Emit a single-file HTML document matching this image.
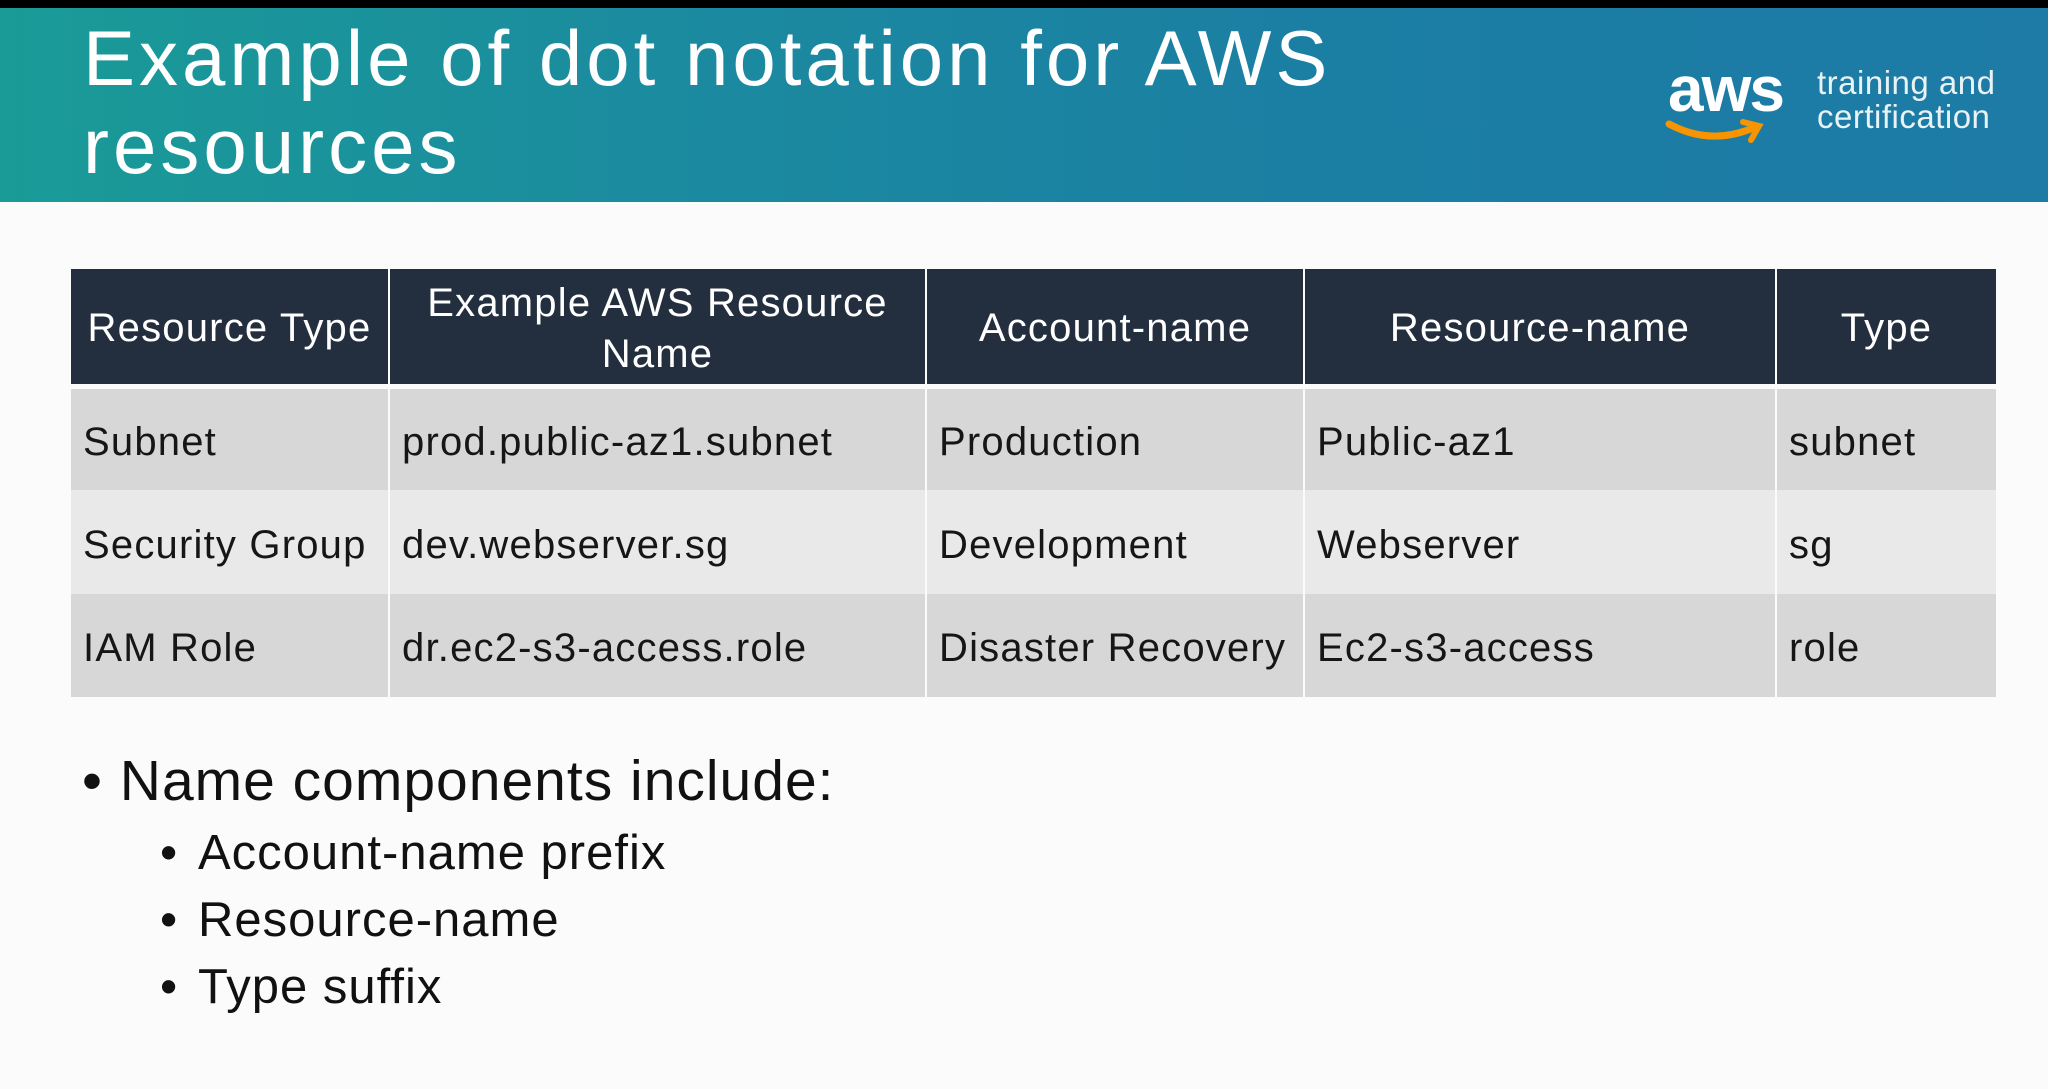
<!DOCTYPE html>
<html><head><meta charset="utf-8"><style>
*{margin:0;padding:0;box-sizing:border-box}
body{width:2048px;height:1089px;background:#fbfbfb;font-family:"Liberation Sans","DejaVu Sans",sans-serif;position:relative;overflow:hidden}
.top{position:absolute;left:0;top:0;width:2048px;height:8px;background:#000}
.hdr{position:absolute;left:0;top:8px;width:2048px;height:194px;background:linear-gradient(90deg,#1a9b97 0%,#1b8aa0 35%,#1b7ea3 65%,#1d7ba6 100%)}
.title{position:absolute;left:83px;top:14px;color:#fff;font-size:78px;line-height:88px;letter-spacing:4px}
.aws{position:absolute;left:1668px;top:52px;color:#fff;font-size:64px;font-weight:bold;letter-spacing:-2px}
.tc{position:absolute;left:1817px;top:66px;color:#e8f3f6;font-size:33px;line-height:34px;letter-spacing:0.5px}
table{position:absolute;left:69px;top:269px;width:1923px;border-collapse:separate;border-spacing:2px 0;table-layout:fixed}
td,th{font-size:40px;color:#161616;font-weight:normal;padding:6px 12px 0;text-align:left;letter-spacing:1.2px;white-space:nowrap}
th{background:#232f3e;color:#fff;text-align:center;height:120px;line-height:51px;border-bottom:5px solid #fbfbfb;padding-top:4px}
tr.a td{background:#d7d7d7;height:101px}
tr.b td{background:#e9e9e9;height:104px}
tr.c td{background:#d7d7d7;height:103px}
.b1{position:absolute;left:82px;top:748px;font-size:57px;color:#111;letter-spacing:1px}
.b2{position:absolute;left:160px;font-size:49px;color:#111;letter-spacing:1px}
.b2 span{display:inline-block;width:38px}
</style></head><body>
<div class="top"></div>
<div class="hdr"></div>
<div class="title">Example of dot notation for AWS<br>resources</div>
<div class="aws">aws</div>
<svg style="position:absolute;left:1665px;top:118px" width="100" height="32"><path d="M4 6 Q45 28 88 10" stroke="#f79400" stroke-width="7" fill="none" stroke-linecap="round"/><path d="M78 4 L94 8 L86 22" stroke="#f79400" stroke-width="6" fill="none" stroke-linecap="round"/></svg>
<div class="tc">training and<br>certification</div>
<table>
<colgroup><col style="width:317px"><col style="width:535px"><col style="width:376px"><col style="width:470px"><col style="width:219px"></colgroup>
<tr><th>Resource Type</th><th>Example AWS Resource<br>Name</th><th>Account-name</th><th>Resource-name</th><th>Type</th></tr>
<tr class="a"><td>Subnet</td><td>prod.public-az1.subnet</td><td>Production</td><td>Public-az1</td><td>subnet</td></tr>
<tr class="b"><td>Security Group</td><td>dev.webserver.sg</td><td>Development</td><td>Webserver</td><td>sg</td></tr>
<tr class="c"><td>IAM Role</td><td>dr.ec2-s3-access.role</td><td>Disaster Recovery</td><td>Ec2-s3-access</td><td>role</td></tr>
</table>
<div class="b1">• Name components include:</div>
<div class="b2" style="top:825px"><span>•</span>Account-name prefix</div>
<div class="b2" style="top:892px"><span>•</span>Resource-name</div>
<div class="b2" style="top:959px"><span>•</span>Type suffix</div>
</body></html>
